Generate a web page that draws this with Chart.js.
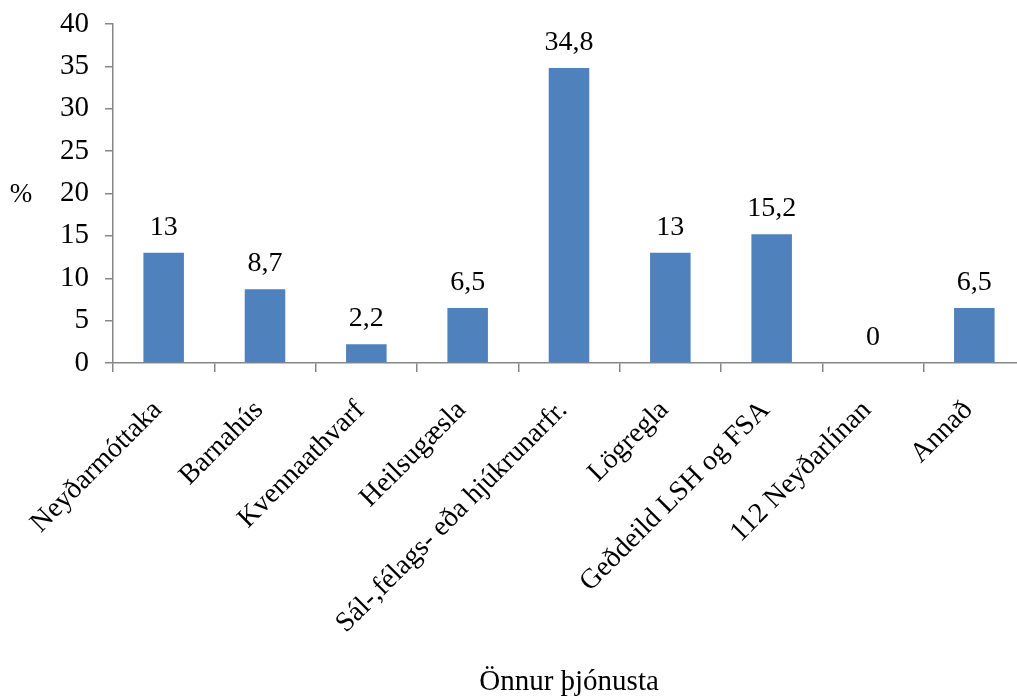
<!DOCTYPE html>
<html>
<head>
<meta charset="utf-8">
<script src="https://cdn.jsdelivr.net/npm/chart.js@4.4.1/dist/chart.umd.min.js"></script>
<style>
  html, body { margin: 0; padding: 0; background: #fff; overflow: hidden; }
  #wrap { width: 1030px; height: 700px; }
</style>
</head>
<body>
<div id="wrap"><canvas id="grafico"></canvas></div>
<script>
// Gögn
const flokkar = [
  "Neyðarmóttaka",
  "Barnahús",
  "Kvennaathvarf",
  "Heilsugæsla",
  "Sál-,félags- eða hjúkrunarfr.",
  "Lögregla",
  "Geðdeild LSH og FSA",
  "112 Neyðarlínan",
  "Annað",
];
const hlutfall = [13, 8.7, 2.2, 6.5, 34.8, 13, 15.2, 0, 6.5];
const yTitill = "%";
const xTitill = "Önnur þjónusta";

const letur = "'Liberation Serif', 'Times New Roman', serif";
const gratt = "#868686";

// Tala með kommu sem aukastafaskil
function snidTala(v) {
  return String(v).replace(".", ",");
}

// Gildi fyrir ofan hverja súlu
const gildiPlugin = {
  id: "gildi",
  afterDatasetsDraw(chart) {
    const ctx = chart.ctx;
    const meta = chart.getDatasetMeta(0);
    ctx.save();
    ctx.font = "28px " + letur;
    ctx.fillStyle = "#000";
    ctx.textAlign = "center";
    ctx.textBaseline = "alphabetic";
    meta.data.forEach((bar, i) => {
      ctx.fillText(snidTala(hlutfall[i]), bar.x, bar.y - 18);
    });
    ctx.restore();
  },
};

// "%" lárétt vinstra megin við y-ásinn
const prosentPlugin = {
  id: "prosent",
  afterDraw(chart) {
    const ctx = chart.ctx;
    const y = chart.scales.y;
    ctx.save();
    ctx.font = "27px " + letur;
    ctx.fillStyle = "#000";
    ctx.textAlign = "center";
    ctx.textBaseline = "middle";
    ctx.fillText(yTitill, 21, y.getPixelForValue(20) + 1);
    ctx.restore();
  },
};

new Chart(document.getElementById("grafico"), {
  type: "bar",
  data: {
    labels: flokkar,
    datasets: [
      {
        data: hlutfall,
        backgroundColor: "#4F81BD",
        barPercentage: 0.4,
        categoryPercentage: 1,
      },
    ],
  },
  options: {
    responsive: true,
    maintainAspectRatio: false,
    animation: false,
    layout: { padding: { top: 24, right: 5, left: 0, bottom: 0 } },
    plugins: {
      legend: { display: false },
      tooltip: { enabled: false },
    },
    scales: {
      x: {
        afterFit(scale) {
          scale.height = 337;
        },
        grid: {
          display: true,
          offset: true,
          drawOnChartArea: false,
          drawTicks: true,
          tickLength: 9,
          color: gratt,
          lineWidth: 1.5,
        },
        border: { color: gratt, width: 1.5 },
        ticks: {
          color: "#000",
          font: { family: letur, size: 28 },
          maxRotation: 45,
          minRotation: 45,
          autoSkip: false,
          padding: 22,
          labelOffset: -6,
        },
        title: {
          display: true,
          text: xTitill,
          color: "#000",
          font: { family: letur, size: 29 },
          padding: { top: 0, bottom: 0 },
        },
      },
      y: {
        min: 0,
        max: 40,
        afterFit(scale) {
          scale.width = 113;
          scale.paddingTop = 0;
          scale.paddingBottom = 0;
        },
        grid: {
          display: true,
          drawOnChartArea: false,
          drawTicks: true,
          tickLength: 8,
          color: gratt,
          lineWidth: 1.5,
        },
        border: { color: gratt, width: 1.5 },
        ticks: {
          stepSize: 5,
          color: "#000",
          font: { family: letur, size: 29 },
          padding: 16,
        },
      },
    },
  },
  plugins: [gildiPlugin, prosentPlugin],
});
</script>
</body>
</html>
